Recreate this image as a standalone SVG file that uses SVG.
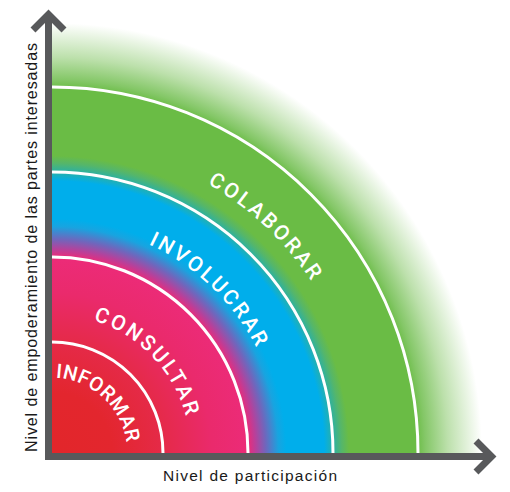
<svg xmlns="http://www.w3.org/2000/svg" width="510" height="492" viewBox="0 0 510 492">
<defs>
<radialGradient id="bands" gradientUnits="userSpaceOnUse" cx="52" cy="453" r="430">
<stop offset="0" stop-color="#e2262a"/>
<stop offset="0.14" stop-color="#e3262e"/>
<stop offset="0.258" stop-color="#e52a48"/>
<stop offset="0.372" stop-color="#ea2a6c"/>
<stop offset="0.456" stop-color="#ec2b78"/>
<stop offset="0.474" stop-color="#b8409a"/>
<stop offset="0.497" stop-color="#7066bc"/>
<stop offset="0.527" stop-color="#18a4e0"/>
<stop offset="0.545" stop-color="#00aeeb"/>
<stop offset="0.633" stop-color="#00aeeb"/>
<stop offset="0.653" stop-color="#28b0a8"/>
<stop offset="0.674" stop-color="#55b66a"/>
<stop offset="0.691" stop-color="#6abc45"/>
<stop offset="0.848" stop-color="#6abc45"/>
<stop offset="0.868" stop-color="#84c767"/>
<stop offset="0.92" stop-color="#bce0ab"/>
<stop offset="1" stop-color="#ffffff"/>
</radialGradient>
<path id="p1" d="M38.97,378.86 A75,75 0 0 1 127,453"/>
<path id="p2" d="M27.86,316.11 A139,139 0 0 1 191,453"/>
<path id="p3" d="M12.06,226.49 A230,230 0 0 1 282,453"/>
<path id="p4" d="M-2.00,146.73 A311,311 0 0 1 363,453"/>
</defs>
<style>
.ring{fill:none;stroke:#ffffff;stroke-width:3}
.lab{fill:#ffffff;font-family:Roboto,'Liberation Sans',sans-serif;font-weight:500;font-size:21px;letter-spacing:2.7px}
.axis{fill:none;stroke:#58595b;stroke-width:7}
.ax{font-family:'Liberation Sans',Arial,sans-serif;fill:#1a1a1a}
</style>
<g id="bands-fill">
<rect x="52" y="0" width="458" height="453" fill="url(#bands)"/>
</g>
<g id="rings">
<path class="ring" d="M52,342 A111,111 0 0 1 163,453"/>
<path class="ring" d="M52,257 A196,196 0 0 1 248,453"/>
<path class="ring" d="M52,172 A281,281 0 0 1 333,453"/>
<path class="ring" d="M52,87 A366,366 0 0 1 418,453"/>
</g>
<g id="informar"><text class="lab" style="letter-spacing:0.4px;font-size:20px"><textPath href="#p1" startOffset="69" text-anchor="middle">INFORMAR</textPath></text></g>
<g id="consultar"><text class="lab"><textPath href="#p2" startOffset="137" text-anchor="middle">CONSULTAR</textPath></text></g>
<g id="involucrar"><text class="lab"><textPath href="#p3" startOffset="217" text-anchor="middle">INVOLUCRAR</textPath></text></g>
<g id="colaborar"><text class="lab"><textPath href="#p4" startOffset="290" text-anchor="middle">COLABORAR</textPath></text></g>
<g id="connectors">
<line class="axis" x1="48.5" y1="460" x2="48.5" y2="15"/>
<polyline class="axis" points="33,30 48.5,14.5 64,30"/>
<line class="axis" x1="45" y1="456.5" x2="492" y2="456.5"/>
<polyline class="axis" points="476,441 491.5,456.5 476,472"/>
</g>
<g id="axis-labels">
<text class="ax" x="163" y="480.5" font-size="15.5" textLength="174" lengthAdjust="spacing">Nivel de participación</text>
<text class="ax" font-size="16" transform="translate(36.5,452) rotate(-90)" textLength="409" lengthAdjust="spacing">Nivel de empoderamiento de las partes interesadas</text>
</g>
</svg>
